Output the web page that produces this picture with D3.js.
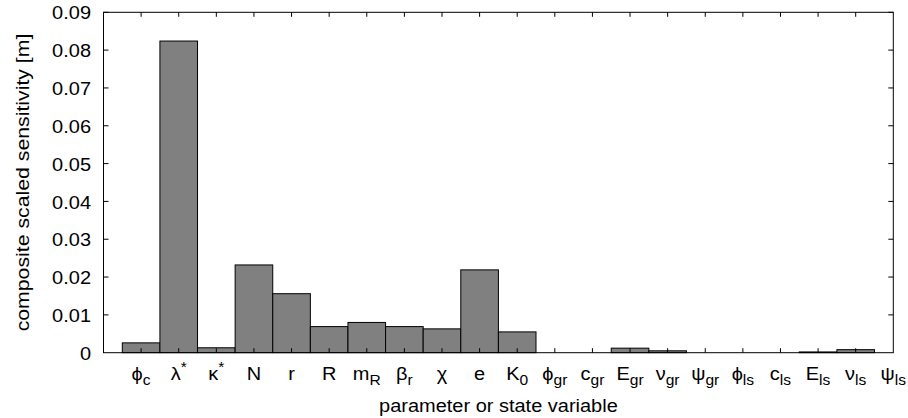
<!DOCTYPE html>
<html><head><meta charset="utf-8">
<script src="https://cdn.jsdelivr.net/npm/d3@7"></script>
<style>body{margin:0;background:#fff}</style>
</head><body>
<svg id="c" width="908" height="418"></svg>
<script>
const categories = ["phi_c","lambda*","kappa*","N","r","R","m_R","beta_r","chi","e","K_0","phi_gr","c_gr","E_gr","nu_gr","psi_gr","phi_ls","c_ls","E_ls","nu_ls","psi_ls"];
const labelBase = ["ϕ","λ","κ","N","r","R","m","β","χ","e","K","ϕ","c","E","ν","ψ","ϕ","c","E","ν","ψ"];
const labelSub  = ["c","","","","","","R","r","","","0","gr","gr","gr","gr","gr","ls","ls","ls","ls","ls"];
const labelSup  = ["","*","*","","","","","","","","","","","","","","","","","",""];
const values = [0.0026,0.0824,0.0013,0.0232,0.0156,0.0069,0.0080,0.0069,0.0063,0.0219,0.0055,0,0,0.0012,0.0005,0,0,0,0.0002,0.0008,0];
const yTicks = [0,0.01,0.02,0.03,0.04,0.05,0.06,0.07,0.08,0.09];
const yTickLabels = ["0","0.01","0.02","0.03","0.04","0.05","0.06","0.07","0.08","0.09"];
const yTitle = "composite scaled sensitivity [m]";
const xTitle = "parameter or state variable";

const L=103.5, R=893.3, T=12.3, B=352.7;
const FS=18.5, SX=1.08, FONT="'Liberation Sans', Arial, Helvetica, sans-serif";
const svg=d3.select("#c");
const x=d3.scaleLinear().domain([-1,categories.length-1]).range([L,R]);
const y=d3.scaleLinear().domain([0,0.09]).range([B,T]);
const bw=x(0.5)-x(0);

svg.append("defs").append("clipPath").attr("id","clip").append("rect")
  .attr("x",L).attr("y",T-1).attr("width",R-L).attr("height",B-T+2);

svg.append("g").attr("clip-path","url(#clip)").selectAll("rect").data(values).join("rect")
  .attr("x",(d,i)=>x(i)-bw).attr("width",2*bw)
  .attr("y",d=>y(d)).attr("height",d=>B-y(d))
  .attr("fill","#808080").attr("stroke","#000").attr("stroke-width",1);

const g=svg.append("g").attr("stroke","#000").attr("stroke-width",1);
yTicks.forEach(t=>{
  if(t===0) return;
  g.append("line").attr("x1",L).attr("x2",L+5).attr("y1",y(t)).attr("y2",y(t));
  g.append("line").attr("x1",R).attr("x2",R-5).attr("y1",y(t)).attr("y2",y(t));
});
categories.forEach((c,i)=>{
  if(i===categories.length-1) return;
  g.append("line").attr("x1",x(i)).attr("x2",x(i)).attr("y1",B).attr("y2",B-4.5);
  g.append("line").attr("x1",x(i)).attr("x2",x(i)).attr("y1",T).attr("y2",T+4.5);
});
g.append("rect").attr("x",L).attr("y",T).attr("width",R-L).attr("height",B-T).attr("fill","none");

const tg=svg.append("g").attr("font-family",FONT).attr("font-size",FS).attr("fill","#000");
yTicks.forEach((t,i)=>{
  tg.append("text").attr("transform",`translate(91,${y(t)}) scale(${SX},1)`)
    .attr("text-anchor","end").attr("dominant-baseline","central").attr("dy","0.05em").text(yTickLabels[i]);
});
categories.forEach((c,i)=>{
  const t=tg.append("text").attr("transform",`translate(${x(i)},380) scale(${SX},1)`).attr("text-anchor","middle");
  t.append("tspan").text(labelBase[i]);
  if(labelSub[i]) t.append("tspan").attr("font-size",FS*0.78).attr("dy",5).text(labelSub[i]);
  if(labelSup[i]) t.append("tspan").attr("font-size",FS*0.78).attr("dy",-8).text(labelSup[i]);
});
tg.append("text").attr("transform",`translate(${(L+R)/2},411.5) scale(${SX},1)`).attr("text-anchor","middle").text(xTitle);
tg.append("text").attr("transform",`translate(29,${(T+B)/2}) rotate(-90) scale(1.15,1)`).attr("text-anchor","middle").text(yTitle);
</script>
</body></html>
